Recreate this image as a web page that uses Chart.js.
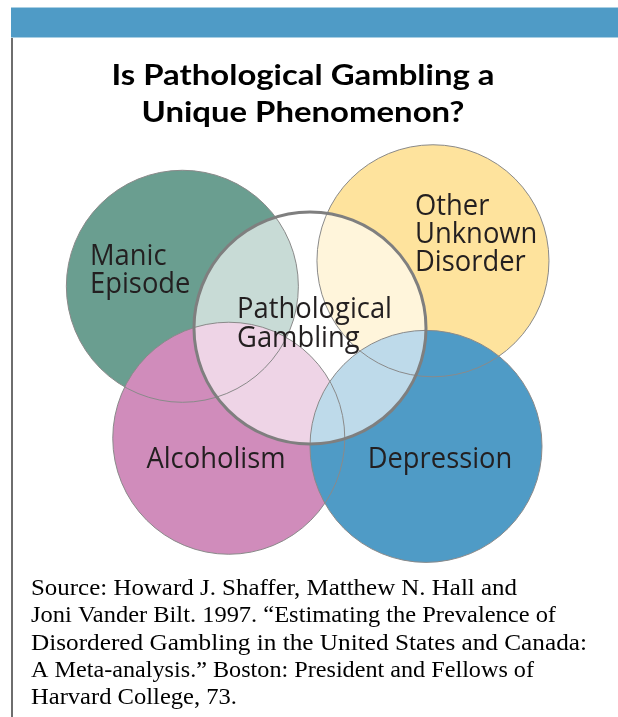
<!DOCTYPE html>
<html>
<head>
<meta charset="utf-8">
<script src="https://cdn.jsdelivr.net/npm/chart.js@4.4.0/dist/chart.umd.min.js"></script>
<style>
  html, body { margin: 0; padding: 0; background: #ffffff; overflow: hidden; }
  #wrap { position: relative; width: 618px; height: 717px; }
  canvas { display: block; }
</style>
</head>
<body>
<div id="wrap"><canvas id="c" width="618" height="717"></canvas></div>
<script>
// ---------- DATA ----------
const setNames   = ['Manic Episode', 'Other Unknown Disorder', 'Alcoholism', 'Depression'];
const centerX    = [-1.10, 1.06, -0.70, 1.00];   // circle centres, in circle-radius units
const centerY    = [0.36, 0.58, -0.95, -1.02];
const radiusU    = [1, 1, 1, 1];
const focusName  = ['Pathological Gambling'];
const focusX     = [0];
const focusY     = [0];
const focusR     = [1];
const labelLines = [['Manic', 'Episode'], ['Other', 'Unknown', 'Disorder'], ['Alcoholism'], ['Depression']];
const focusLines = ['Pathological', 'Gambling'];
const titleLines = ['Is Pathological Gambling a', 'Unique Phenomenon?'];
const sourceLines = [
  'Source: Howard J. Shaffer, Matthew N. Hall and',
  'Joni Vander Bilt. 1997. \u201CEstimating the Prevalence of',
  'Disordered Gambling in the United States and Canada:',
  'A Meta-analysis.\u201D Boston: President and Fellows of',
  'Harvard College, 73.'
];

// ---------- STYLE ----------
const fillColors = ['#6a9e90', '#fee39d', '#d08cbb', '#4f9bc6'];
const LABEL_FONT = '29px "Open Sans", "DejaVu Sans", sans-serif';
const TITLE_FONT = 'bold 28px Lato, "Open Sans", sans-serif';
const SOURCE_FONT = '23px "Liberation Serif", "DejaVu Serif", serif';

const setPoints = setNames.map((n, i) => ({ x: centerX[i], y: centerY[i] }));
const focusPoints = focusName.map((n, i) => ({ x: focusX[i], y: focusY[i] }));

function radiusFrom(arr) {
  return (ctx) => {
    const s = ctx.chart.scales && ctx.chart.scales.x;
    if (!s) return 0;
    const p = Math.abs(s.getPixelForValue(arr[ctx.dataIndex]) - s.getPixelForValue(0));
    return isFinite(p) ? p : 0;
  };
}

function scaledText(ctx, text, x, y, font, sx, align, color) {
  ctx.save();
  ctx.font = font;
  ctx.fillStyle = color;
  ctx.textBaseline = 'alphabetic';
  ctx.textAlign = align;
  ctx.translate(x, y);
  ctx.scale(sx, 1);
  ctx.fillText(text, 0, 0);
  ctx.restore();
}
function widthOf(ctx, text, font) {
  ctx.save(); ctx.font = font; const w = ctx.measureText(text).width; ctx.restore(); return w;
}

const decor = {
  id: 'decor',
  beforeDraw(chart) {
    const ctx = chart.ctx;
    ctx.save();
    ctx.fillStyle = '#ffffff';
    ctx.fillRect(0, 0, chart.width, chart.height);
    // top band
    ctx.fillStyle = '#4f9bc6';
    ctx.fillRect(11, 7, 607, 31);
    ctx.fillStyle = '#a9cfe3';
    ctx.fillRect(11, 7, 607, 1);
    ctx.fillRect(11, 37, 607, 1);
    // left rule
    ctx.fillStyle = '#6e6e6e';
    ctx.fillRect(11, 38, 2, chart.height - 38);
    ctx.restore();
  },
  afterDatasetsDraw(chart) {
    const ctx = chart.ctx;
    const sx = 155 / widthOf(ctx, 'Pathological', LABEL_FONT);
    const col = '#231f20';
    const lay = [
      { x: 90, y: 265, dy: 28, align: 'left' },
      { x: 415, y: 215, dy: 28, align: 'left' },
      { x: 216, y: 468, dy: 28, align: 'center' },
      { x: 440, y: 468, dy: 28, align: 'center' }
    ];
    labelLines.forEach((lines, i) => {
      lines.forEach((t, j) => scaledText(ctx, t, lay[i].x, lay[i].y + j * lay[i].dy, LABEL_FONT, sx, lay[i].align, col));
    });
    focusLines.forEach((t, j) => scaledText(ctx, t, 237, 318 + j * 29, LABEL_FONT, sx, 'left', col));

    // title
    const tsx = 383 / widthOf(ctx, titleLines[0], TITLE_FONT);
    titleLines.forEach((t, j) => scaledText(ctx, t, 303, 85 + j * 37, TITLE_FONT, tsx, 'center', '#000000'));

    // source (each line fitted to its width in the reference)
    const sb = [595, 622, 650, 677, 704];
    const sw = [486, 525, 556, 503, 206];
    sourceLines.forEach((t, j) => {
      const ssx = sw[j] / widthOf(ctx, t, SOURCE_FONT);
      scaledText(ctx, t, 31, sb[j], SOURCE_FONT, ssx, 'left', '#000000');
    });
  }
};

new Chart(document.getElementById('c'), {
  type: 'scatter',
  data: {
    datasets: [
      { label: 'sets', data: setPoints, order: 4, clip: false,
        pointBackgroundColor: fillColors, pointBorderWidth: 0, pointBorderColor: 'rgba(0,0,0,0)',
        pointRadius: radiusFrom(radiusU), pointHoverRadius: radiusFrom(radiusU) },
      { label: focusName[0], data: focusPoints, order: 3, clip: false,
        pointBackgroundColor: 'rgba(255,255,255,0.63)', pointBorderWidth: 0, pointBorderColor: 'rgba(0,0,0,0)',
        pointRadius: radiusFrom(focusR), pointHoverRadius: radiusFrom(focusR) },
      { label: 'set outlines', data: setPoints, order: 2, clip: false,
        pointBackgroundColor: 'rgba(0,0,0,0)', pointBorderWidth: 1, pointBorderColor: '#8a8a8a',
        pointRadius: radiusFrom(radiusU), pointHoverRadius: radiusFrom(radiusU) },
      { label: 'focus outline', data: focusPoints, order: 1, clip: false,
        pointBackgroundColor: 'rgba(0,0,0,0)', pointBorderWidth: 3, pointBorderColor: '#7f7f7f',
        pointRadius: radiusFrom(focusR), pointHoverRadius: radiusFrom(focusR) }
    ]
  },
  options: {
    responsive: false,
    animation: false,
    devicePixelRatio: 1,
    events: [],
    layout: { autoPadding: false, padding: 0 },
    plugins: { legend: { display: false }, tooltip: { enabled: false }, title: { display: false } },
    scales: {
      x: { type: 'linear', display: false, min: -2.672, max: 2.655 },
      y: { type: 'linear', display: false, min: -3.353, max: 2.828 }
    }
  },
  plugins: [decor]
});
</script>
</body>
</html>
